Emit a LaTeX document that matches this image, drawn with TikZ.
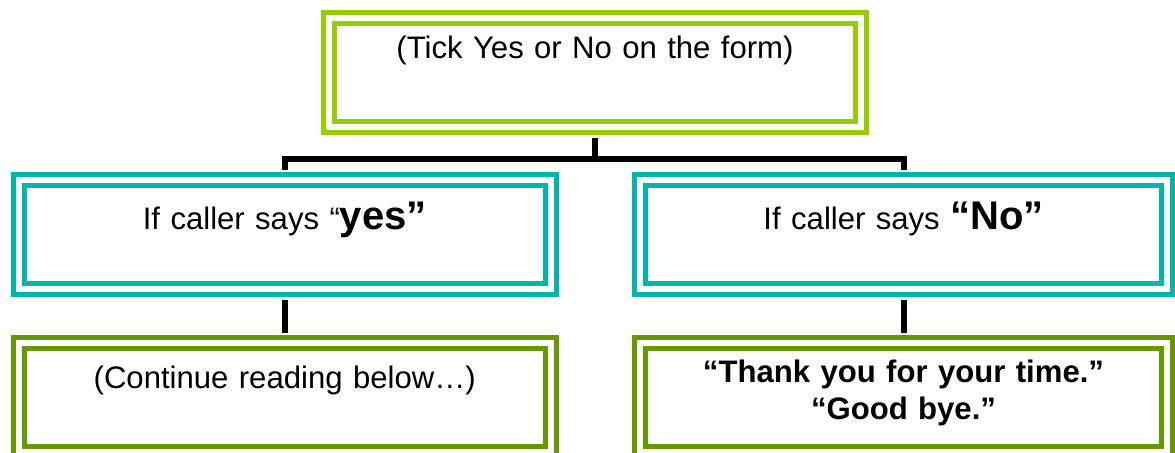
\documentclass[tikz,border=0pt]{standalone}
\usepackage{fontspec}
\setmainfont{Liberation Sans}
\definecolor{formlime}{RGB}{153,204,0}
\definecolor{sayteal}{RGB}{0,181,173}
\definecolor{replyolive}{RGB}{102,153,0}
\begin{document}
\begin{tikzpicture}[x=.45pt, y=-.45pt,
	box/.style={draw=#1, double, line width=2.25pt, double distance=2.7pt,
		minimum width=239.4pt, minimum height=49.05pt, inner sep=0pt,
		text width=225pt, align=center, font=\fontsize{14}{16.7}\selectfont},
	wire/.style={line width=2.7pt}]
	\useasboundingbox (0,0) rectangle (1175,452);
	% question and the two answers
	\node[box=formlime, text height=18pt, text depth=31.05pt] (form) at (595,72.5)
		{(Tick Yes or No on the form)};
	\node[box=sayteal, text height=22.05pt, text depth=27pt] (yes) at (284.75,234.5)
		{If caller says “{\fontsize{18}{20}\selectfont\bfseries yes”}};
	\node[box=sayteal, minimum width=237.15pt, text height=22.05pt, text depth=27pt] (no) at (903.5,234.5)
		{If caller says {\fontsize{18}{20}\selectfont\bfseries “No”}};
	% what to do next
	\node[box=replyolive, text height=20.25pt, text depth=28.8pt] (goon) at (284.75,397.5)
		{(Continue reading below…)};
	\node[box=replyolive, minimum width=237.15pt, text height=17.55pt, text depth=31.5pt,
		font=\fontsize{14}{16.7}\selectfont\bfseries] (bye) at (903.5,397.5)
		{“Thank you for your time.”\\“Good bye.”};
	% connectors
	\coordinate (bus) at ([yshift=-13.05pt]form.south);
	\draw[wire, shorten <=3.6pt] (form.south) -- (bus);
	\draw[wire, shorten >=3.6pt] (bus) -| (yes.north);
	\draw[wire, shorten >=3.6pt] (bus) -| (no.north);
	\draw[wire, shorten <=3.6pt, shorten >=3.6pt] (yes.south) -- (goon.north);
	\draw[wire, shorten <=3.6pt, shorten >=3.6pt] (no.south) -- (bye.north);
\end{tikzpicture}
\end{document}
